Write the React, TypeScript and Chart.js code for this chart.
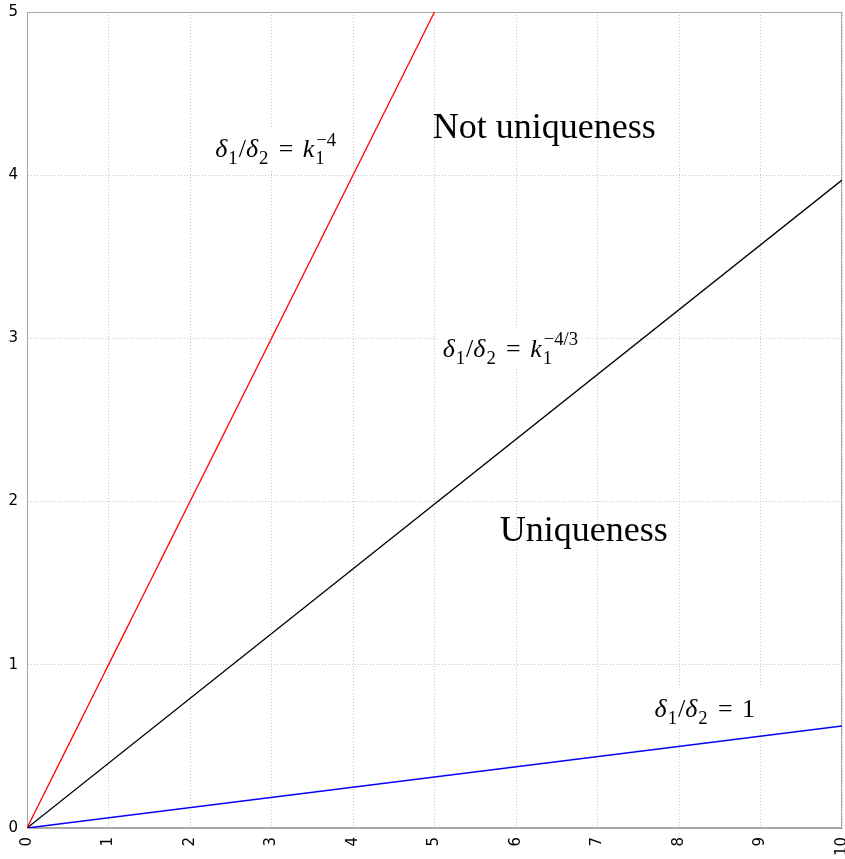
import { useEffect, useRef } from 'react';
import { Chart, registerables } from 'chart.js';

Chart.register(...registerables);

// ---- data ----
const xTickValues = [0, 1, 2, 3, 4, 5, 6, 7, 8, 9, 10];
const yTickValues = [0, 1, 2, 3, 4, 5];

const redX = [0, 5];
const redY = [0, 5];
const blackX = [0, 10];
const blackY = [0, 3.97];
const blueX = [0, 10];
const blueY = [0, 0.625];

type Part = { t: string; italic?: boolean; sub?: string; sup?: string; pad?: number };

const mathLabels: { x: number; y: number; parts: Part[] }[] = [
  {
    x: 2.31,
    y: 4.11,
    parts: [
      { t: 'δ', italic: true, sub: '1' },
      { t: '/' },
      { t: 'δ', italic: true, sub: '2' },
      { t: '=', pad: 0.36 },
      { t: 'k', italic: true, sub: '1', sup: '−4' },
    ],
  },
  {
    x: 5.1,
    y: 2.886,
    parts: [
      { t: 'δ', italic: true, sub: '1' },
      { t: '/' },
      { t: 'δ', italic: true, sub: '2' },
      { t: '=', pad: 0.36 },
      { t: 'k', italic: true, sub: '1', sup: '−4/3' },
    ],
  },
  {
    x: 7.7,
    y: 0.68,
    parts: [
      { t: 'δ', italic: true, sub: '1' },
      { t: '/' },
      { t: 'δ', italic: true, sub: '2' },
      { t: '=', pad: 0.36 },
      { t: '1' },
    ],
  },
];

const textLabels = [
  { x: 4.98, y: 4.23, text: 'Not uniqueness' },
  { x: 5.8, y: 1.76, text: 'Uniqueness' },
];

const SERIF = '"Liberation Serif", "Times New Roman", serif';

function zip(xs: number[], ys: number[]) {
  return xs.map((x, i) => ({ x, y: ys[i] }));
}

function drawMath(ctx: CanvasRenderingContext2D, x0: number, y0: number, parts: Part[], size: number, measureOnly = false) {
  let x = x0;
  const small = size * 0.72;
  for (const p of parts) {
    const pad = (p.pad || 0) * size;
    x += pad;
    ctx.font = `${p.italic ? 'italic ' : ''}${size}px ${SERIF}`;
    const w = ctx.measureText(p.t).width;
    if (!measureOnly) ctx.fillText(p.t, x, y0);
    x += w;
    let extra = 0;
    if (p.sub) {
      ctx.font = `${small}px ${SERIF}`;
      const ws = ctx.measureText(p.sub).width;
      if (!measureOnly) ctx.fillText(p.sub, x + 1, y0 + size * 0.25);
      extra = Math.max(extra, ws + 2);
    }
    if (p.sup) {
      ctx.font = `${small}px ${SERIF}`;
      const wp = ctx.measureText(p.sup).width;
      if (!measureOnly) ctx.fillText(p.sup, x + 2, y0 - size * 0.45);
      extra = Math.max(extra, wp + 2);
    }
    x += extra + pad;
  }
  return x - x0;
}

const annotationPlugin = {
  id: 'annotations',
  beforeDatasetsDraw(chart: any) {
    const { ctx, chartArea, scales } = chart;
    ctx.save();
    ctx.strokeStyle = '#a8a8a8';
    ctx.lineWidth = 1;
    ctx.strokeRect(chartArea.left + 0.5, chartArea.top + 0.5, chartArea.right - chartArea.left - 1, chartArea.bottom - chartArea.top - 1);

    const size = 26;
    ctx.textBaseline = 'alphabetic';
    ctx.textAlign = 'left';
    for (const m of mathLabels) {
      const px = scales.x.getPixelForValue(m.x);
      const py = scales.y.getPixelForValue(m.y);
      const w = drawMath(ctx, px, py, m.parts, size, true);
      ctx.fillStyle = '#ffffff';
      ctx.fillRect(px - 6, py - size * 1.15, w + 12, size * 1.6);
      ctx.fillStyle = '#000000';
      drawMath(ctx, px, py, m.parts, size);
    }
    ctx.font = `36px ${SERIF}`;
    ctx.fillStyle = '#000000';
    for (const t of textLabels) {
      const px = scales.x.getPixelForValue(t.x);
      const py = scales.y.getPixelForValue(t.y);
      ctx.fillText(t.text, px, py);
    }
    ctx.restore();
  },
};

export default function App() {
  const ref = useRef<HTMLCanvasElement | null>(null);
  useEffect(() => {
    if (!ref.current) return;
    const tickFont = { family: '"DejaVu Sans", sans-serif', size: 15 };
    const chart = new Chart(ref.current, {
      type: 'line',
      data: {
        datasets: [
          { data: zip(redX, redY), borderColor: '#ff0000', borderWidth: 1.3, pointRadius: 0, fill: false },
          { data: zip(blackX, blackY), borderColor: '#000000', borderWidth: 1.3, pointRadius: 0, fill: false },
          { data: zip(blueX, blueY), borderColor: '#0000ff', borderWidth: 1.5, pointRadius: 0, fill: false },
        ],
      },
      options: {
        animation: false,
        responsive: false,
        maintainAspectRatio: false,
        layout: { padding: { top: 12, right: 3, left: 0, bottom: 0 } },
        plugins: { legend: { display: false }, tooltip: { enabled: false } },
        scales: {
          x: {
            type: 'linear',
            min: 0,
            max: 10,
            afterBuildTicks: (axis: any) => {
              axis.ticks = xTickValues.map((v) => ({ value: v }));
            },
            afterFit: (axis: any) => {
              axis.height = 31;
              axis.paddingLeft = 0;
              axis.paddingRight = 0;
            },
            ticks: { maxRotation: 90, minRotation: 90, padding: 9, color: '#000', font: tickFont, autoSkip: false },
            grid: { color: '#c4c4c4', lineWidth: 1, drawTicks: false },
            border: { display: true, color: '#a8a8a8', dash: [1, 2] },
          },
          y: {
            type: 'linear',
            min: 0,
            max: 5,
            afterBuildTicks: (axis: any) => {
              axis.ticks = yTickValues.map((v) => ({ value: v }));
            },
            afterFit: (axis: any) => {
              axis.width = 27;
              axis.paddingTop = 0;
              axis.paddingBottom = 0;
            },
            ticks: { padding: 9, color: '#000', font: tickFont },
            grid: { color: '#c4c4c4', lineWidth: 1, drawTicks: false },
            border: { display: true, color: '#a8a8a8', dash: [1, 2] },
          },
        },
      },
      plugins: [annotationPlugin],
    } as any);
    return () => chart.destroy();
  }, []);
  return (
    <div style={{ position: 'fixed', left: 0, top: 0, width: 845, height: 859, background: '#fff' }}>
      <canvas ref={ref} width={845} height={859} style={{ width: 845, height: 859 }} />
    </div>
  );
}
